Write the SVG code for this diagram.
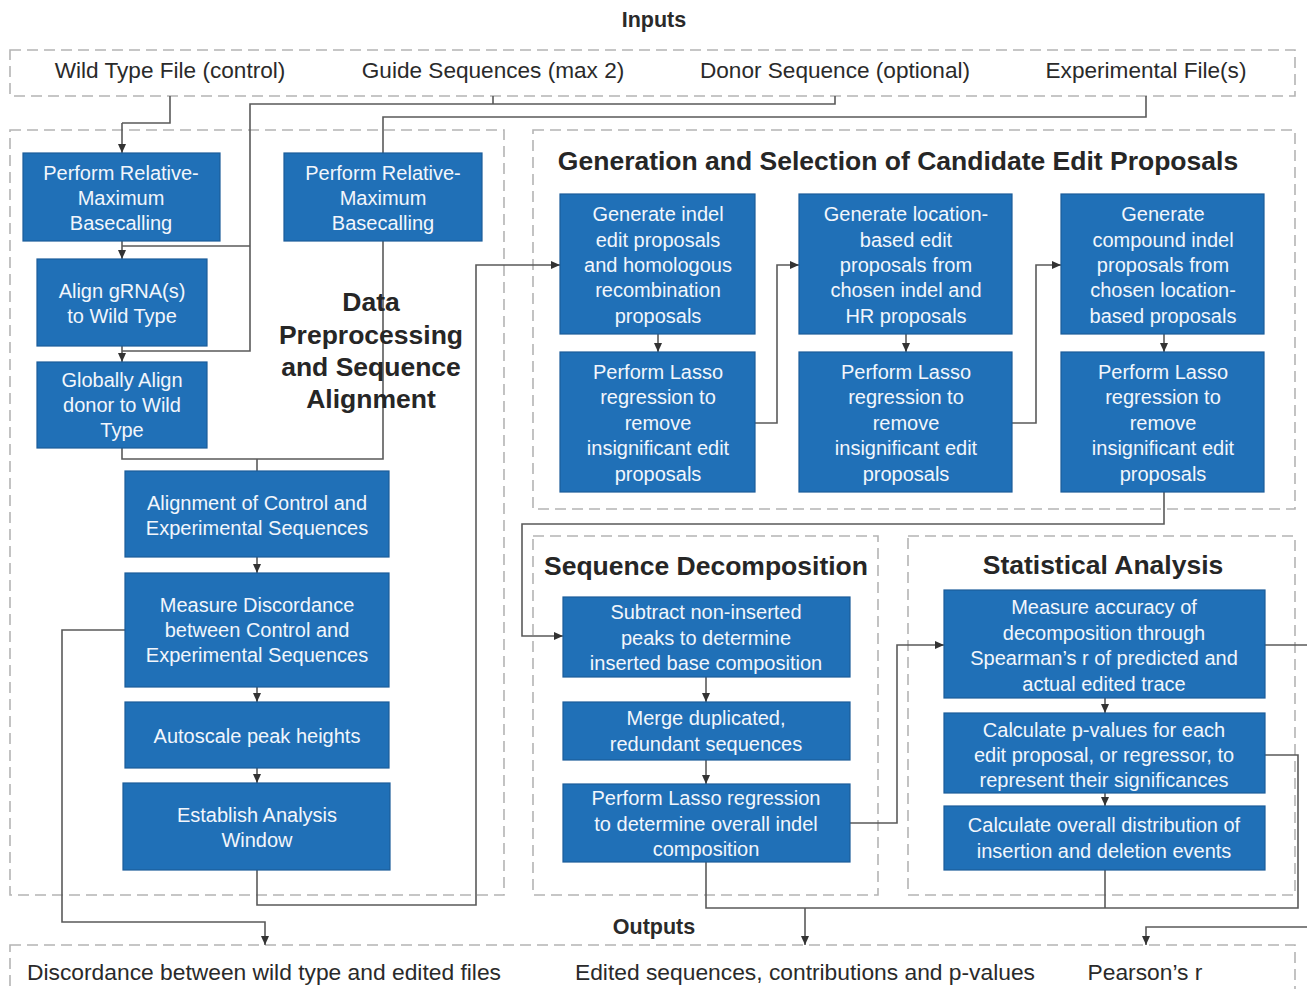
<svg xmlns="http://www.w3.org/2000/svg" width="1307" height="989" viewBox="0 0 1307 989">
<style>
.bg{fill:#ffffff}
.dash{fill:none;stroke:#b4b4b4;stroke-width:1.6;stroke-dasharray:11 6}
.box{fill:#2070b7;stroke:#1b5c9a;stroke-width:1.2}
.bt{font-family:"Liberation Sans",Arial,sans-serif;font-size:20px;fill:#f2f6fc;text-anchor:middle}
.io{font-family:"Liberation Sans",Arial,sans-serif;font-size:22.6px;fill:#2a2a2a;text-anchor:middle}
.io2{font-family:"Liberation Sans",Arial,sans-serif;font-size:22.8px;fill:#2a2a2a;text-anchor:middle}
.hd{font-family:"Liberation Sans",Arial,sans-serif;font-size:21.5px;font-weight:bold;fill:#2a2a2a;text-anchor:middle}
.tt{font-family:"Liberation Sans",Arial,sans-serif;font-size:26.5px;font-weight:bold;fill:#262626;text-anchor:middle}
.ln{fill:none;stroke:#5a5a5a;stroke-width:1.6}
.ar{fill:none;stroke:#5a5a5a;stroke-width:1.6;marker-end:url(#ah)}
</style>
<defs>
<marker id="ah" markerWidth="10" markerHeight="10" refX="9" refY="5" orient="auto" markerUnits="userSpaceOnUse">
<path d="M0,1 L9,5 L0,9 Z" fill="#333333"/>
</marker>
</defs>
<rect class="bg" x="0" y="0" width="1307" height="989"/>

<g id="containers">
<rect class="dash" x="10" y="50" width="1285" height="46"/>
<rect class="dash" x="10" y="130" width="494" height="765"/>
<rect class="dash" x="533" y="130" width="762" height="379"/>
<rect class="dash" x="533" y="536" width="345" height="359"/>
<rect class="dash" x="908" y="536" width="387" height="359"/>
<rect class="dash" x="10" y="945" width="1285" height="70"/>
</g>

<g id="connectors">
<path class="ln" d="M170,96 V123 H122"/>
<path class="ar" d="M122,123 V153"/>
<path class="ln" d="M493,96 V104"/>
<path class="ln" d="M835,96 V104 H250 V351 H122"/>
<path class="ln" d="M250,246 H122"/>
<path class="ar" d="M122,241 V259"/>
<path class="ar" d="M122,346 V362"/>
<path class="ln" d="M1146,96 V117 H383 V153"/>
<path class="ln" d="M383,241 V459 H122 V448"/>
<path class="ln" d="M257,459 V471"/>
<path class="ar" d="M257,557 V573"/>
<path class="ar" d="M257,687 V702"/>
<path class="ar" d="M257,768 V783"/>
<path class="ar" d="M125,630 H62 V922 H265 V945"/>
<path class="ar" d="M257,870 V905 H476 V265 H560"/>
<path class="ar" d="M658,334 V352"/>
<path class="ar" d="M906,334 V352"/>
<path class="ar" d="M1164,334 V352"/>
<path class="ar" d="M755,423 H777 V265 H799"/>
<path class="ar" d="M1012,423 H1036 V265 H1061"/>
<path class="ar" d="M1164,492 V524 H522 V636 H563"/>
<path class="ar" d="M706,677 V702"/>
<path class="ar" d="M706,760 V784"/>
<path class="ar" d="M850,823 H897 V645 H944"/>
<path class="ar" d="M1105,698 V713"/>
<path class="ar" d="M1105,793 V806"/>
<path class="ln" d="M706,862 V908 H1298 V755 H1265"/>
<path class="ln" d="M1105,870 V908"/>
<path class="ar" d="M805,908 V945"/>
<path class="ln" d="M1265,645 H1310"/>
<path class="ar" d="M1310,927 H1146 V945"/>
</g>

<g id="inputs">
<text class="hd" x="654" y="27">Inputs</text>
<text class="io" x="170" y="78">Wild Type File (control)</text>
<text class="io" x="493" y="78">Guide Sequences (max 2)</text>
<text class="io" x="835" y="78">Donor Sequence (optional)</text>
<text class="io" x="1146" y="78">Experimental File(s)</text>
</g>

<g id="title-preprocessing">
<text class="tt" x="371" y="311">Data</text>
<text class="tt" x="371" y="344">Preprocessing</text>
<text class="tt" x="371" y="376">and Sequence</text>
<text class="tt" x="371" y="408">Alignment</text>
</g>
<g id="title-generation"><text class="tt" x="898" y="170">Generation and Selection of Candidate Edit Proposals</text></g>
<g id="title-decomposition"><text class="tt" x="706" y="575">Sequence Decomposition</text></g>
<g id="title-statistical"><text class="tt" x="1103" y="574">Statistical Analysis</text></g>

<g id="n-basecall-control">
<rect class="box" x="23" y="153" width="197" height="88"/>
<text class="bt" x="121" y="180">Perform Relative-</text>
<text class="bt" x="121" y="205">Maximum</text>
<text class="bt" x="121" y="230">Basecalling</text>
</g>
<g id="n-basecall-exp">
<rect class="box" x="284" y="153" width="198" height="88"/>
<text class="bt" x="383" y="180">Perform Relative-</text>
<text class="bt" x="383" y="205">Maximum</text>
<text class="bt" x="383" y="230">Basecalling</text>
</g>
<g id="n-align-grna">
<rect class="box" x="37" y="259" width="170" height="87"/>
<text class="bt" x="122" y="298">Align gRNA(s)</text>
<text class="bt" x="122" y="323">to Wild Type</text>
</g>
<g id="n-align-donor">
<rect class="box" x="37" y="362" width="170" height="86"/>
<text class="bt" x="122" y="387">Globally Align</text>
<text class="bt" x="122" y="412">donor to Wild</text>
<text class="bt" x="122" y="437">Type</text>
</g>
<g id="n-alignment">
<rect class="box" x="125" y="471" width="264" height="86"/>
<text class="bt" x="257" y="510">Alignment of Control and</text>
<text class="bt" x="257" y="535">Experimental Sequences</text>
</g>
<g id="n-discordance">
<rect class="box" x="125" y="573" width="264" height="114"/>
<text class="bt" x="257" y="612">Measure Discordance</text>
<text class="bt" x="257" y="637">between Control and</text>
<text class="bt" x="257" y="662">Experimental Sequences</text>
</g>
<g id="n-autoscale">
<rect class="box" x="125" y="702" width="264" height="66"/>
<text class="bt" x="257" y="743">Autoscale peak heights</text>
</g>
<g id="n-window">
<rect class="box" x="123" y="783" width="267" height="87"/>
<text class="bt" x="257" y="822">Establish Analysis</text>
<text class="bt" x="257" y="847">Window</text>
</g>

<g id="n-gen-indel">
<rect class="box" x="560" y="194" width="195" height="140"/>
<text class="bt" x="658" y="221">Generate indel</text>
<text class="bt" x="658" y="247">edit proposals</text>
<text class="bt" x="658" y="272">and homologous</text>
<text class="bt" x="658" y="297">recombination</text>
<text class="bt" x="658" y="323">proposals</text>
</g>
<g id="n-lasso-1">
<rect class="box" x="560" y="352" width="195" height="140"/>
<text class="bt" x="658" y="379">Perform Lasso</text>
<text class="bt" x="658" y="404">regression to</text>
<text class="bt" x="658" y="430">remove</text>
<text class="bt" x="658" y="455">insignificant edit</text>
<text class="bt" x="658" y="481">proposals</text>
</g>
<g id="n-gen-location">
<rect class="box" x="799" y="194" width="213" height="140"/>
<text class="bt" x="906" y="221">Generate location-</text>
<text class="bt" x="906" y="247">based edit</text>
<text class="bt" x="906" y="272">proposals from</text>
<text class="bt" x="906" y="297">chosen indel and</text>
<text class="bt" x="906" y="323">HR proposals</text>
</g>
<g id="n-lasso-2">
<rect class="box" x="799" y="352" width="213" height="140"/>
<text class="bt" x="906" y="379">Perform Lasso</text>
<text class="bt" x="906" y="404">regression to</text>
<text class="bt" x="906" y="430">remove</text>
<text class="bt" x="906" y="455">insignificant edit</text>
<text class="bt" x="906" y="481">proposals</text>
</g>
<g id="n-gen-compound">
<rect class="box" x="1061" y="194" width="203" height="140"/>
<text class="bt" x="1163" y="221">Generate</text>
<text class="bt" x="1163" y="247">compound indel</text>
<text class="bt" x="1163" y="272">proposals from</text>
<text class="bt" x="1163" y="297">chosen location-</text>
<text class="bt" x="1163" y="323">based proposals</text>
</g>
<g id="n-lasso-3">
<rect class="box" x="1061" y="352" width="203" height="140"/>
<text class="bt" x="1163" y="379">Perform Lasso</text>
<text class="bt" x="1163" y="404">regression to</text>
<text class="bt" x="1163" y="430">remove</text>
<text class="bt" x="1163" y="455">insignificant edit</text>
<text class="bt" x="1163" y="481">proposals</text>
</g>

<g id="n-subtract">
<rect class="box" x="563" y="597" width="287" height="80"/>
<text class="bt" x="706" y="619">Subtract non-inserted</text>
<text class="bt" x="706" y="645">peaks to determine</text>
<text class="bt" x="706" y="670">inserted base composition</text>
</g>
<g id="n-merge">
<rect class="box" x="563" y="702" width="287" height="58"/>
<text class="bt" x="706" y="725">Merge duplicated,</text>
<text class="bt" x="706" y="751">redundant sequences</text>
</g>
<g id="n-lasso-overall">
<rect class="box" x="563" y="784" width="287" height="78"/>
<text class="bt" x="706" y="805">Perform Lasso regression</text>
<text class="bt" x="706" y="831">to determine overall indel</text>
<text class="bt" x="706" y="856">composition</text>
</g>

<g id="n-spearman">
<rect class="box" x="944" y="590" width="321" height="108"/>
<text class="bt" x="1104" y="614">Measure accuracy of</text>
<text class="bt" x="1104" y="640">decomposition through</text>
<text class="bt" x="1104" y="665">Spearman’s r of predicted and</text>
<text class="bt" x="1104" y="691">actual edited trace</text>
</g>
<g id="n-pvalues">
<rect class="box" x="944" y="713" width="321" height="80"/>
<text class="bt" x="1104" y="737">Calculate p-values for each</text>
<text class="bt" x="1104" y="762">edit proposal, or regressor, to</text>
<text class="bt" x="1104" y="787">represent their significances</text>
</g>
<g id="n-distribution">
<rect class="box" x="944" y="806" width="321" height="64"/>
<text class="bt" x="1104" y="832">Calculate overall distribution of</text>
<text class="bt" x="1104" y="858">insertion and deletion events</text>
</g>

<g id="outputs">
<text class="hd" x="654" y="934">Outputs</text>
<text class="io2" x="264" y="980">Discordance between wild type and edited files</text>
<text class="io2" x="805" y="980">Edited sequences, contributions and p-values</text>
<text class="io2" x="1145" y="980">Pearson’s r</text>
</g>
</svg>
